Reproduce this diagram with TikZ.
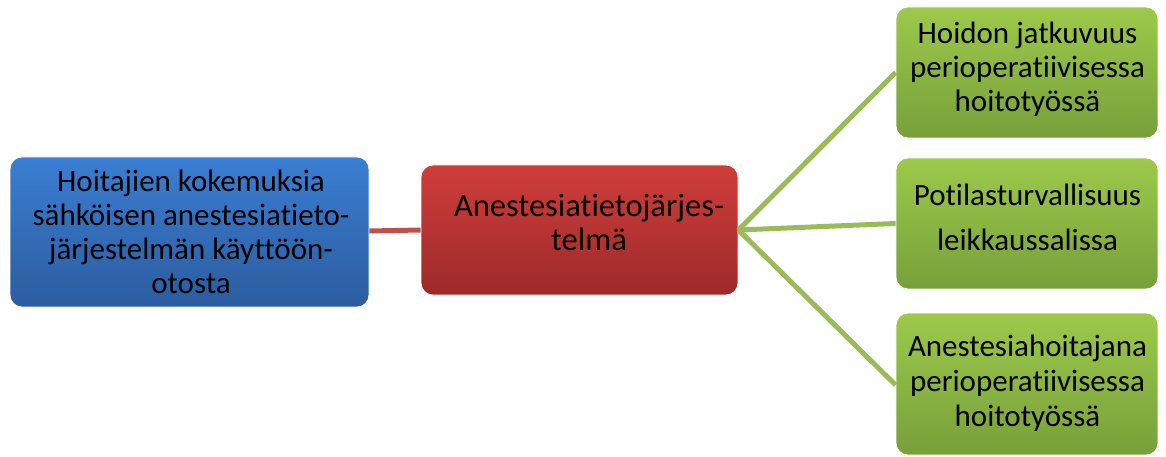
\documentclass[tikz,border=0pt]{standalone}
\usepackage{fontspec}
\setmainfont{Carlito}[Ligatures=NoCommon]
\definecolor{bluetop}{HTML}{3B7ED2}
\definecolor{bluebot}{HTML}{2B5C9E}
\definecolor{redtop}{HTML}{D03D3A}
\definecolor{redbot}{HTML}{9C2A2A}
\definecolor{greentop}{HTML}{9DC94B}
\definecolor{greenbot}{HTML}{77A03A}
\definecolor{redline}{HTML}{C0504D}
\definecolor{greenline}{HTML}{9BBB59}
\begin{document}
\begin{tikzpicture}[x=1pt,y=-1pt,
  box/.style={rounded corners=12pt, inner sep=0pt, draw=white, line width=0.8pt},
  bluebox/.style={box, top color=bluetop, bottom color=bluebot},
  redbox/.style={box, top color=redtop, bottom color=redbot},
  greenbox/.style={box, top color=greentop, bottom color=greenbot},
  label/.style={inner sep=0pt, align=center, font=\fontsize{31}{34}\selectfont},
  redconn/.style={draw=redline, line width=5pt},
  greenconn/.style={draw=greenline, line width=5pt}]
\useasboundingbox (0,0) rectangle (1166,457);
% boxes
\node[bluebox, minimum width=359pt, minimum height=150pt] (blue) at (189.5,232) {};
\node[redbox, minimum width=317pt, minimum height=130pt] (red) at (579.5,230) {};
\node[greenbox, minimum width=262pt, minimum height=131pt] (g1) at (1027,72.5) {};
\node[greenbox, minimum width=262pt, minimum height=131pt] (g2) at (1027,223.5) {};
\node[greenbox, minimum width=262pt, minimum height=142pt] (g3) at (1027,384) {};
% texts
\node[label] (tblue) at (191,231.5)
  {Hoitajien kokemuksia\\sähköisen anestesiatieto-\\järjestelmän käyttöön-\\otosta};
\node[label, font=\fontsize{32.5}{34}\selectfont] (tred) at (589,222) {Anestesiatietojärjes-\\telmä};
\node[label] (tg1) at (1027.5,69) {Hoidon jatkuvuus\\perioperatiivisessa\\hoitotyössä};
\node[label, font=\fontsize{31}{45}\selectfont] (tg2) at (1027.5,217)
  {Potilasturvallisuus\\leikkaussalissa};
\node[label, font=\fontsize{31}{35}\selectfont] (tg3) at (1027.5,383)
  {Anestesiahoitajana\\perioperatiivisessa\\hoitotyössä};
% connectors
\coordinate (hub) at (red.east);
\path[redconn] ([yshift=1pt]blue.east) -- ([yshift=0pt]red.west);
\path[greenconn] (hub) -- (g1.west);
\path[greenconn] (hub) -- (g2.west);
\path[greenconn] (hub) -- ([yshift=-1pt]g3.west);
\end{tikzpicture}
\end{document}
